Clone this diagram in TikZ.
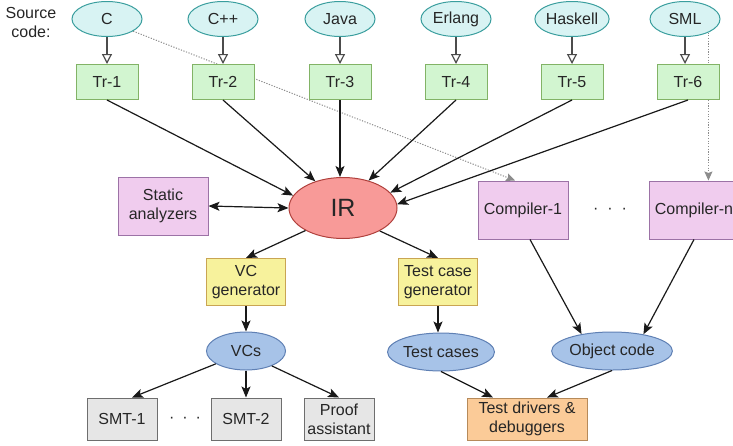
\documentclass[tikz,border=0pt]{standalone}
\usepackage{fontspec}
\setmainfont{Liberation Sans}
\usetikzlibrary{arrows.meta,shapes.geometric,backgrounds}

\definecolor{srcfill}{HTML}{D8F3F3}
\definecolor{srcline}{HTML}{3A9E9E}
\definecolor{trfill}{HTML}{D2F5D0}
\definecolor{trline}{HTML}{82B366}
\definecolor{irfill}{HTML}{F89A98}
\definecolor{irline}{HTML}{B0403C}
\definecolor{toolfill}{HTML}{F0CCEE}
\definecolor{toolline}{HTML}{9C72A6}
\definecolor{genfill}{HTML}{F7F29C}
\definecolor{genline}{HTML}{C9A553}
\definecolor{datafill}{HTML}{A7C3E8}
\definecolor{dataline}{HTML}{5F80B4}
\definecolor{smtfill}{HTML}{E6E6E6}
\definecolor{smtline}{HTML}{6E6E6E}
\definecolor{drvfill}{HTML}{FBCB98}
\definecolor{drvline}{HTML}{B68A5A}
\definecolor{txt}{HTML}{262626}

\begin{document}
\begin{tikzpicture}[x=1pt, y=-1pt, font=\fontsize{16}{19}\selectfont, text=txt,
  src/.style={ellipse, draw=srcline, fill=srcfill, line width=1pt, minimum width=70pt, minimum height=35pt, inner sep=0pt},
  tr/.style={draw=trline, fill=trfill, line width=1pt, minimum width=62pt, minimum height=35pt, inner sep=0pt},
  tool/.style={draw=toolline, fill=toolfill, line width=1pt, minimum width=90pt, minimum height=58pt, inner sep=0pt, align=center},
  gen/.style={draw=genline, fill=genfill, line width=1pt, minimum width=79pt, minimum height=47pt, inner sep=0pt, align=center},
  data/.style={ellipse, draw=dataline, fill=datafill, line width=1pt, minimum height=38pt, inner sep=0pt},
  smt/.style={draw=smtline, fill=smtfill, line width=1pt, minimum width=70pt, minimum height=42pt, inner sep=0pt, align=center},
  conv/.style={draw=black!70, line width=1.2pt, -{Triangle[open, length=10pt, width=10pt, fill=white]}},
  flow/.style={draw=black!90, line width=1.2pt, -{Stealth[length=11pt, width=9pt, inset=2.5pt]}},
  link/.style={draw=black!45, line width=1pt, dash pattern=on 1.2pt off 1.5pt, -{Stealth[length=9pt, width=8pt, inset=1.5pt]}},
  dots/.style={inner sep=0pt}]
  \useasboundingbox (0,0) rectangle (733,445);

  \node[align=center] (lbl) at (31,22) {Source\\code:};
  % source languages
  \node[src] (c) at (107,19) {C};
  \node[src] (cpp) at (223,19) {C++};
  \node[src] (java) at (340,19) {Java};
  \node[src] (erl) at (456,19) {Erlang};
  \node[src] (hs) at (572,19) {Haskell};
  \node[src] (sml) at (685,19) {SML};
  % translators
  \node[tr] (tr1) at (107,82) {Tr-1};
  \node[tr] (tr2) at (223,82) {Tr-2};
  \node[tr] (tr3) at (340,82) {Tr-3};
  \node[tr] (tr4) at (456,82) {Tr-4};
  \node[tr] (tr5) at (572,82) {Tr-5};
  \node[tr] (tr6) at (688,82) {Tr-6};
  \draw[conv] (c) -- (tr1);
  \draw[conv] (cpp) -- (tr2);
  \draw[conv] (java) -- (tr3);
  \draw[conv] (erl) -- (tr4);
  \draw[conv] (hs) -- (tr5);
  \draw[conv] (sml.south) -- (sml.south |- tr6.north);

  \node[ellipse, draw=irline, fill=irfill, line width=1pt, minimum width=108pt, minimum height=61pt, inner sep=0pt, font=\fontsize{25}{28}\selectfont] (ir) at (343,208) {IR};
  \node[tool] (sa) at (163,206) {Static\\analyzers};
  \node[tool] (comp1) at (523,210) {Compiler-1};
  \node[tool] (compn) at (694,210) {Compiler-n};
  \node[dots] (cdots) at (610,211) {·\hspace{9pt}·\hspace{9pt}·};

  \node[gen] (vcg) at (246,282) {VC\\generator};
  \node[gen] (tcg) at (438,282) {Test case\\generator};
  \node[data, minimum width=79pt] (vcs) at (246,351) {VCs};
  \node[data, minimum width=90pt] (tc) at (441,352) {Test cases};
  \node[data, minimum width=105pt] (obj) at (612,351) {Object code};

  \node[smt] (smt1) at (122,419) {SMT-1};
  \node[dots] (sdots) at (185,420) {·\hspace{8pt}·\hspace{8pt}·};
  \node[smt] (smt2) at (246,419) {SMT-2};
  \node[smt] (proof) at (339,419) {Proof\\assistant};
  \node[smt, draw=drvline, fill=drvfill, minimum width=120pt] (drv) at (527,419) {Test drivers \&\\debuggers};

  \draw[flow] (tr1.south) -- (ir.166);
  \draw[flow] (tr2.south) -- (ir.136);
  \draw[flow] (tr3.south) -- (tr3.south |- ir.north);
  \draw[flow] (tr4.south) -- (ir.47);
  \draw[flow] (tr5.south) -- (ir.18);
  \draw[flow] (tr6.south) -- (ir.4);
  \draw[flow, {Stealth[length=11pt, width=9pt, inset=2.5pt]}-{Stealth[length=11pt, width=9pt, inset=2.5pt]}] (sa.east) -- (ir.west);
  \draw[flow] (ir.211) -- (vcg.north);
  \draw[flow] (ir.328) -- (tcg.north);
  \draw[flow] (vcg) -- (vcs);
  \draw[flow] (tcg.south) -- (tcg.south |- tc.north);
  \draw[flow] ([xshift=7pt]comp1.south) -- (obj.151);
  \draw[flow] (compn.south) -- (obj.28);
  \draw[flow] (vcs.203) -- ([xshift=10pt]smt1.north);
  \draw[flow] (vcs) -- (smt2);
  \draw[flow] (vcs.330) -- (proof.north);
  \draw[flow] (tc.south) -- ([xshift=-34pt]drv.north);
  \draw[flow] (obj.south) -- ([xshift=20pt]drv.north);

  \begin{scope}[on background layer]
    \draw[link] (c.335) -- ([xshift=-8pt]comp1.north);
    \draw[link] (sml.330) -- (sml.330 |- compn.north);
  \end{scope}
\end{tikzpicture}
\end{document}
